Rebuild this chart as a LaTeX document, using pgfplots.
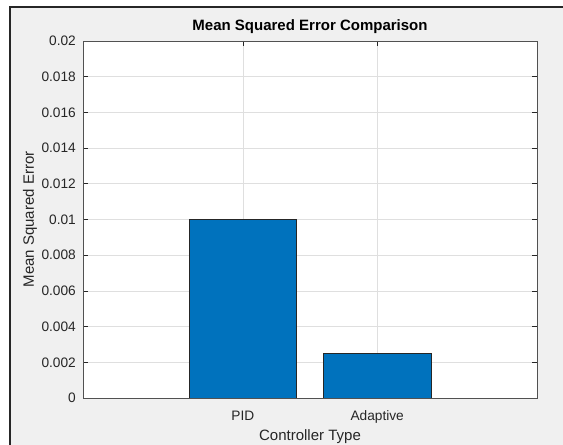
\documentclass[border=0pt]{standalone}
\usepackage{pgfplots}
\pgfplotsset{compat=1.18}
\usepackage{fontspec}
\setmainfont{Liberation Sans}
\definecolor{mblue}{RGB}{0,114,189}
\definecolor{axgray}{RGB}{38,38,38}
\definecolor{figbg}{RGB}{240,240,240}
\definecolor{gridc}{RGB}{223,223,223}
\newcommand{\tlfont}{\fontsize{13.7bp}{16bp}\selectfont}
\begin{document}
\begin{tikzpicture}[x=1bp,y=1bp]
\useasboundingbox (0,0) rectangle (563,445);
\fill[white] (0,0) rectangle (563,445);
\fill[figbg] (10,0) rectangle (563,438);
\draw[line width=2bp, black!85] (10,0) -- (10,438) -- (563,438);
\begin{axis}[
  at={(83bp,47bp)}, anchor=south west,
  scale only axis, width=454bp, height=357bp,
  axis background/.style={fill=white},
  ybar, bar width=0.8,
  xmin=-0.19, xmax=3.19, ymin=0, ymax=0.02,
  xtick={1,2}, xticklabels={PID,Adaptive},
  ytick={0,0.002,0.004,0.006,0.008,0.01,0.012,0.014,0.016,0.018,0.02},
  yticklabels={0,0.002,0.004,0.006,0.008,0.01,0.012,0.014,0.016,0.018,0.02},
  scaled y ticks=false,
  tick pos=both, tick align=inside,
  major tick length=5bp,
  tick style={axgray, line width=0.6bp},
  axis line style={axgray!80, line width=0.8bp},
  grid=major,
  major grid style={gridc, line width=0.6bp},
  tick label style={font=\tlfont, text=axgray},
  yticklabel style={font=\tlfont, anchor=east, inner sep=0pt, xshift=-7bp},
  xticklabel style={font=\tlfont, anchor=base, inner sep=0pt, yshift=-23bp},
  title={Mean Squared Error Comparison},
  title style={at={(axis description cs:0.5,1)}, anchor=base, inner sep=0pt, yshift=5bp, font=\bfseries\fontsize{15bp}{18bp}\selectfont, text=black},
  xlabel={Controller Type},
  xlabel style={at={(axis description cs:0.5,-0.1204)}, anchor=base, inner sep=0pt, font=\fontsize{15bp}{18bp}\selectfont, text=axgray},
  ylabel={Mean Squared Error},
  ylabel style={at={(axis description cs:-0.108,0.5)}, anchor=base, inner sep=0pt, rotate=0, font=\fontsize{15bp}{18bp}\selectfont, text=axgray},
]
\addplot[fill=mblue, draw=black!85, line width=0.6bp] coordinates {(1,0.01) (2,0.0025)};
\end{axis}
\end{tikzpicture}
\end{document}
